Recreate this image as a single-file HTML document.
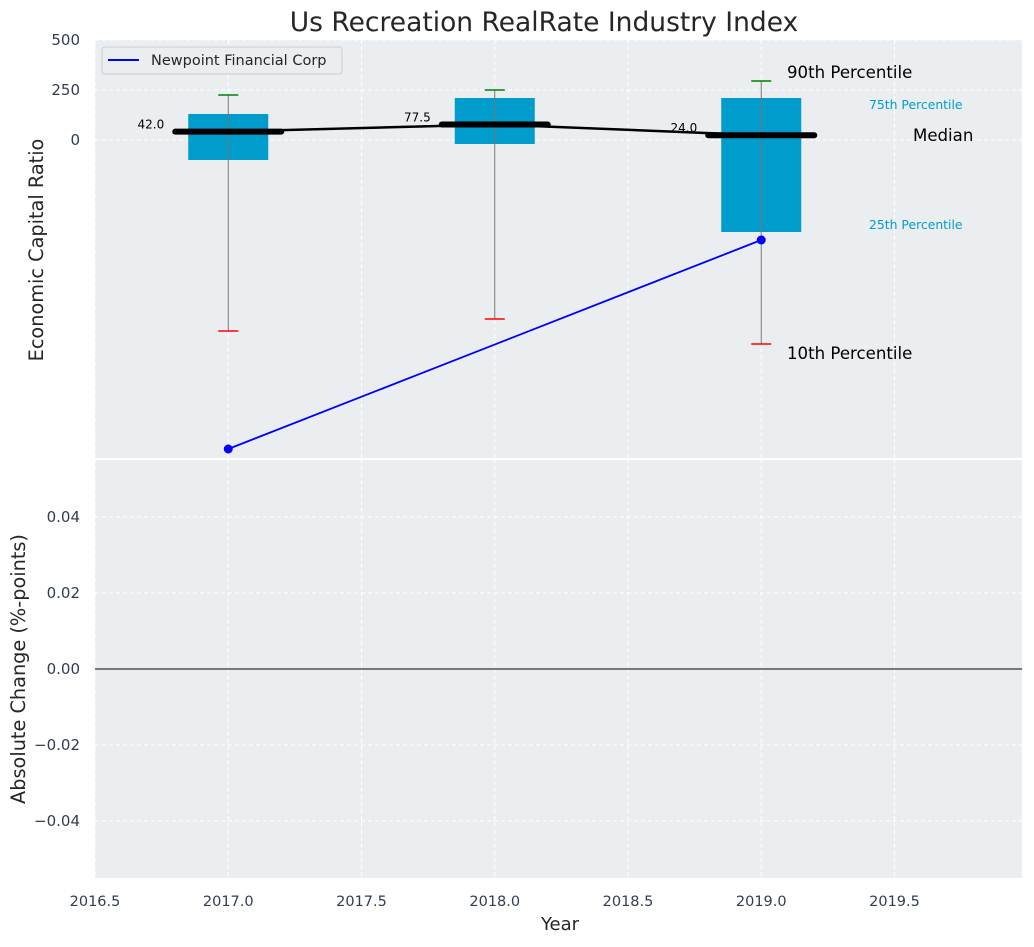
<!DOCTYPE html>
<html><head><meta charset="utf-8"><style>
body{margin:0;background:#fff;font-family:"Liberation Sans","DejaVu Sans",sans-serif}
svg text{font-family:"DejaVu Sans","Liberation Sans",sans-serif}
</style></head><body>
<svg id="c" width="1034" height="942" xmlns="http://www.w3.org/2000/svg"></svg>
<script>
const years=[2017,2018,2019];
const q10=[-955,-895,-1020];
const q25=[-100,-20,-460];
const med=[42,77.5,24];
const q75=[130,210,210];
const q90=[225,250,295];
const company=[-1545,null,-500];
const xTicks=[2016.5,2017,2017.5,2018,2018.5,2019,2019.5];
const yTopTicks=[0,250,500];
const yBotTicks=[-0.04,-0.02,0,0.02,0.04];

const L=95,R=1022,T1=40,B1=459,T2=459,B2=878;
const xs=v=>L+(v-2016.5)*266.5;
const y1=v=>140-0.2*v;
const y2=v=>669-3800*v;
const svg=document.getElementById('c');
const NS='http://www.w3.org/2000/svg';
function mk(tag,a,parent){const e=document.createElementNS(NS,tag);for(const k in a)e.setAttribute(k,a[k]);(parent||svg).appendChild(e);return e;}

let e;
e=mk('rect',{x:L,y:T1,width:R-L,height:B1-T1,fill:'#eaeef0'});


e=mk('rect',{x:L,y:T2+1,width:R-L,height:B2-T2-1,fill:'#eaeef0'});


mk('line',{x1:L,x2:R,y1:459,y2:459,stroke:'#fff','stroke-width':2});

xTicks.forEach(t=>{
  mk('line',{x1:xs(t),x2:xs(t),y1:T1,y2:B1,stroke:'#fff','stroke-dasharray':'4,3','stroke-width':1});
  mk('line',{x1:xs(t),x2:xs(t),y1:T2,y2:B2,stroke:'#fff','stroke-dasharray':'4,3','stroke-width':1});
  e=mk('text',{x:xs(t),y:906,'text-anchor':'middle','font-size':14.5,fill:'#2e3e50'});e.textContent=t.toFixed(1);
  
  
});
yTopTicks.forEach(t=>{
  mk('line',{x1:L,x2:R,y1:y1(t),y2:y1(t),stroke:'#fff','stroke-dasharray':'4,3'});
  e=mk('text',{x:80,y:y1(t)+5,'text-anchor':'end','font-size':15,fill:'#2e3e50'});e.textContent=t;
  
  
});
yBotTicks.forEach(t=>{
  mk('line',{x1:L,x2:R,y1:y2(t),y2:y2(t),stroke:t===0?'#000':'#fff','stroke-dasharray':t===0?'':'4,3','stroke-width':1});
  e=mk('text',{x:80,y:y2(t)+5,'text-anchor':'end','font-size':15,fill:'#2e3e50'});e.textContent=(t<0?'\u22120':'0')+Math.abs(t).toFixed(2).slice(1);
  
  
});

years.forEach((yr,i)=>{
  const cx=xs(yr),hw=40;
  e=mk('rect',{x:cx-hw,y:y1(q75[i]),width:2*hw,height:y1(q25[i])-y1(q75[i]),fill:'#009ccc'});
  
  
  mk('line',{x1:cx,x2:cx,y1:y1(q90[i]),y2:y1(q10[i]),stroke:'#777','stroke-width':1});
  mk('line',{x1:cx-10,x2:cx+10,y1:y1(q90[i]),y2:y1(q90[i]),stroke:'green','stroke-width':1.5});
  mk('line',{x1:cx-10,x2:cx+10,y1:y1(q10[i]),y2:y1(q10[i]),stroke:'red','stroke-width':1.5});
});
let d=years.map((yr,i)=>(i?'L':'M')+xs(yr)+','+y1(med[i])).join('');
mk('path',{d:d,stroke:'#000','stroke-width':2.5,fill:'none'});
years.forEach((yr,i)=>{
  const cx=xs(yr);
  e=mk('line',{x1:cx-53,x2:cx+53,y1:y1(med[i]),y2:y1(med[i]),stroke:'#000','stroke-width':6,'stroke-linecap':'round'});
  
  
  e=mk('text',{x:cx-64,y:y1(med[i])-3,'text-anchor':'end','font-size':12,fill:'#000'});e.textContent=med[i].toFixed(1);
  
  
});
const pts=years.map((yr,i)=>company[i]==null?null:[xs(yr),y1(company[i])]).filter(p=>p);
mk('path',{d:pts.map((p,i)=>(i?'L':'M')+p[0]+','+p[1]).join(''),stroke:'#0000ff','stroke-width':1.8,fill:'none'});
pts.forEach(p=>{e=mk('circle',{cx:p[0],cy:p[1],r:4.5,fill:'#0000ff'});
  
  });

function txt(x,y,s,size,fill,name,anchor){const t=mk('text',{x:x,y:y,'font-size':size,fill:fill,'text-anchor':anchor||'start'});t.textContent=s;
  
  return t;}
txt(787,78,'90th Percentile',16.6,'#000','p90-annotation');
txt(869,109,'75th Percentile',12.4,'#009ccc','p75-annotation');
txt(913,141,'Median',16.6,'#000','median-annotation');
txt(869,229,'25th Percentile',12.4,'#009ccc','p25-annotation');
txt(787,359,'10th Percentile',16.6,'#000','p10-annotation');

e=mk('g',{});


mk('rect',{x:102,y:47,width:240,height:27,rx:3,fill:'#eaeef0',stroke:'#ccc'},e);
mk('line',{x1:108,x2:139,y1:60,y2:60,stroke:'#0000ff','stroke-width':2},e);
const lt=mk('text',{x:151,y:65,'font-size':14.5,fill:'#262626'},e);lt.textContent='Newpoint Financial Corp';

txt(544,31,'Us Recreation RealRate Industry Index',26.5,'#262626','chart-title','middle');
txt(560,930,'Year',18,'#262626','x-axis-title','middle');
e=txt(0,0,'Economic Capital Ratio',19.3,'#262626','y-top-axis-title','middle');e.setAttribute('transform','translate(43,250) rotate(-90)');
e=txt(0,0,'Absolute Change (%-points)',19.3,'#262626','y-bottom-axis-title','middle');e.setAttribute('transform','translate(25,669) rotate(-90)');
</script>
</body></html>
